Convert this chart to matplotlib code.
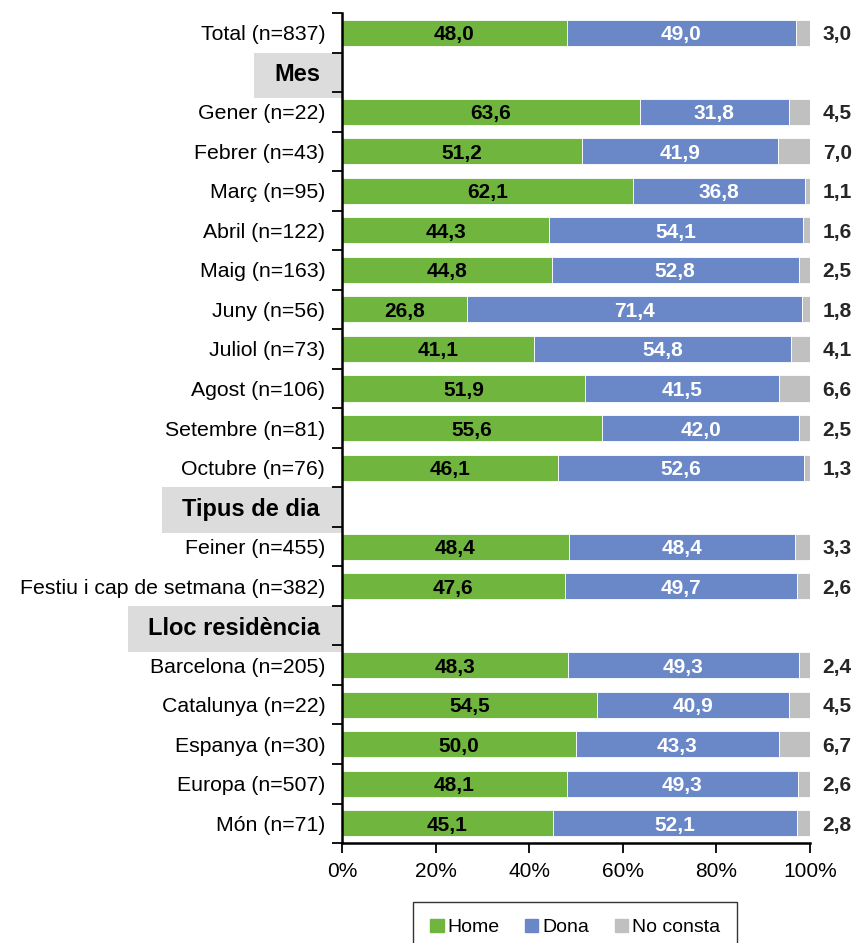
import matplotlib
matplotlib.use("Agg")
import matplotlib.pyplot as plt
import matplotlib.patches as mpatches
import matplotlib.transforms as mtrans
import numpy as np

plt.rcParams['font.family'] = ['Liberation Sans', 'DejaVu Sans']

labels = ["Total (n=837)", "Mes", "Gener (n=22)", "Febrer (n=43)", "Març (n=95)",
          "Abril (n=122)", "Maig (n=163)", "Juny (n=56)", "Juliol (n=73)",
          "Agost (n=106)", "Setembre (n=81)", "Octubre (n=76)", "Tipus de dia",
          "Feiner (n=455)", "Festiu i cap de setmana (n=382)", "Lloc residència",
          "Barcelona (n=205)", "Catalunya (n=22)", "Espanya (n=30)",
          "Europa (n=507)", "Món (n=71)"]
headers = ["Mes", "Tipus de dia", "Lloc residència"]

# None = header row
home = [48.0, None, 63.6, 51.2, 62.1, 44.3, 44.8, 26.8, 41.1, 51.9, 55.6, 46.1,
        None, 48.4, 47.6, None, 48.3, 54.5, 50.0, 48.1, 45.1]
dona = [49.0, None, 31.8, 41.9, 36.8, 54.1, 52.8, 71.4, 54.8, 41.5, 42.0, 52.6,
        None, 48.4, 49.7, None, 49.3, 40.9, 43.3, 49.3, 52.1]
nocons = [3.0, None, 4.5, 7.0, 1.1, 1.6, 2.5, 1.8, 4.1, 6.6, 2.5, 1.3,
          None, 3.3, 2.6, None, 2.4, 4.5, 6.7, 2.6, 2.8]

c_home = "#70b63e"
c_dona = "#6a88c8"
c_nc = "#c0c0c0"
c_box = "#dcdcdc"

def fmt(v):
    return ("%.1f" % v).replace(".", ",")

fig = plt.figure(figsize=(8.57, 9.43), dpi=100)
ax = fig.add_axes([0.399, 0.106, 0.5462, 0.8802])

y = np.arange(len(labels))
h = 0.66
fs = 15
for i in y:
    if home[i] is None:
        continue
    ax.barh(i, home[i], height=h, color=c_home, edgecolor="white", linewidth=0.6)
    ax.barh(i, dona[i], left=home[i], height=h, color=c_dona, edgecolor="white", linewidth=0.6)
    ax.barh(i, nocons[i], left=home[i] + dona[i], height=h, color=c_nc, edgecolor="white", linewidth=0.6)
    ax.text(home[i] / 2, i, fmt(home[i]), ha="center", va="center_baseline",
            fontsize=fs, fontweight="bold", color="black")
    ax.text(home[i] + dona[i] / 2, i, fmt(dona[i]), ha="center", va="center_baseline",
            fontsize=fs, fontweight="bold", color="white")
    ax.text(102.7, i, fmt(nocons[i]), ha="left", va="center_baseline",
            fontsize=fs, fontweight="bold", color="#262626", clip_on=False)

ax.set_xlim(0, 100)
ax.set_ylim(len(labels) - 0.5, -0.5)
ax.set_xticks(np.arange(0, 101, 20))
ax.set_xticklabels(["%d%%" % v for v in range(0, 101, 20)], fontsize=fs)
ax.set_yticks(y)
ax.set_yticklabels(["" if l in headers else l for l in labels], fontsize=15.3, va="center_baseline")
ax.set_yticks(np.arange(-0.5, len(labels), 1), minor=True)
ax.tick_params(axis="y", which="major", length=0, pad=12)
ax.tick_params(axis="y", which="minor", length=7, width=1.3, direction="out")
ax.tick_params(axis="x", length=7, width=1.3, direction="out", pad=7)
for s in ["top", "right"]:
    ax.spines[s].set_visible(False)
for s in ["left", "bottom"]:
    ax.spines[s].set_linewidth(1.8)

# header labels
trans = mtrans.blended_transform_factory(ax.transAxes, ax.transData)
head_texts = []
for l, yi in zip(labels, y):
    if l in headers:
        t = ax.text(-0.047, yi, l, transform=trans, ha="right", va="center_baseline",
                    fontsize=17, fontweight="bold", clip_on=False)
        head_texts.append((t, yi))

# grey boxes behind header labels
fig.canvas.draw()
r = fig.canvas.get_renderer()
W, H = fig.bbox.width, fig.bbox.height
x_axis = ax.transAxes.transform((0, 0))[0]
for t, yi in head_texts:
    bb = t.get_window_extent(r)
    x0 = bb.x0 - 20
    ytop = ax.transData.transform((0, yi - 0.5))[1]
    ybot = ax.transData.transform((0, yi + 0.66))[1]
    rect = mpatches.Rectangle((x0 / W, ybot / H), (x_axis - x0) / W, (ytop - ybot) / H,
                              transform=fig.transFigure, facecolor=c_box,
                              edgecolor="none", zorder=-1)
    fig.patches.append(rect)
ax.patch.set_alpha(0)

handles = [mpatches.Patch(color=c_home, label="Home"),
           mpatches.Patch(color=c_dona, label="Dona"),
           mpatches.Patch(color=c_nc, label="No consta")]
leg = fig.legend(handles=handles, loc="upper center", bbox_to_anchor=(0.671, 0.0435),
                 ncol=3, fontsize=14, frameon=True, fancybox=False, borderaxespad=0,
                 handlelength=0.7, handleheight=0.7, handletextpad=0.2,
                 columnspacing=1.3, borderpad=0.85, edgecolor="black")
leg.get_frame().set_linewidth(1.0)

fig.savefig("out.png", dpi=100)
